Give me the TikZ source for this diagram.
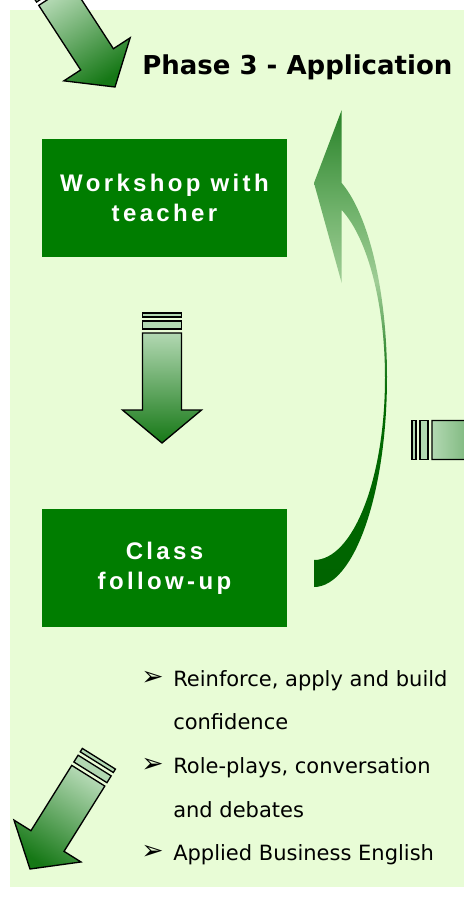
\documentclass[tikz,border=0pt]{standalone}
\usepackage{fontspec}
\setmainfont{DejaVu Sans}
\newfontfamily\boxfont[LetterSpace=14]{Liberation Sans}
\newfontfamily\dejavu{DejaVu Sans}
\definecolor{panel}{RGB}{232,252,214}
\definecolor{boxgreen}{RGB}{0,125,0}
\definecolor{alight}{RGB}{178,216,178}
\definecolor{adark}{RGB}{22,120,22}
\definecolor{cA}{RGB}{0,100,0}
\definecolor{cB}{RGB}{0,105,0}
\definecolor{cC}{RGB}{40,130,40}
\definecolor{cD}{RGB}{110,175,105}
\definecolor{cE}{RGB}{160,205,150}
\definecolor{cF}{RGB}{115,180,110}
\definecolor{cG}{RGB}{40,130,40}
\pgfdeclareverticalshading{curvedshade}{100bp}{color(0bp)=(cA); color(25bp)=(cA); color(45bp)=(cB); color(49bp)=(cC); color(53bp)=(cD); color(57bp)=(cE); color(64bp)=(cF); color(75bp)=(cG); color(100bp)=(cG)}
\tikzset{
  arrowline/.style={draw=black, line width=1pt, line join=miter},
  greenbox/.style={rectangle, fill=boxgreen, minimum width=183.75pt, minimum height=88.5pt, inner sep=0pt, align=center, text=white, font=\boxfont\bfseries\fontsize{18pt}{22.5pt}\selectfont},
  bullettext/.style={anchor=base west, inner sep=0pt, font=\dejavu\fontsize{15.75pt}{18pt}\selectfont},
  bulletmark/.style={anchor=base west, inner sep=0pt, font=\dejavu\fontsize{20pt}{22pt}\selectfont},
}
\newcommand\blockarrow[3]{%
  \begin{scope}[shift={(#1,#2)},rotate=#3]
    \shadedraw[arrowline, top color=alight, bottom color=adark, shading angle=#3]
      (0,0) -- (-39.5,-33) -- (-19.5,-33) -- (-19.5,-110) -- (19.5,-110) -- (19.5,-33) -- (39.5,-33) -- cycle;
    \filldraw[arrowline, fill=alight] (-19.5,-114) -- (19.5,-114) -- (19.5,-122) -- (-19.5,-122) -- cycle;
    \filldraw[arrowline, fill=alight] (-19.5,-126) -- (19.5,-126) -- (19.5,-130) -- (-19.5,-130) -- cycle;
  \end{scope}}
\begin{document}
\begin{tikzpicture}[x=0.75pt,y=-0.75pt]
\useasboundingbox (0,0) rectangle (464,897);
\clip (0,0) rectangle (464,897);
\fill[white] (0,0) rectangle (464,897);
\fill[panel] (10,10) rectangle (470,887);

% block arrows
\blockarrow{115}{87}{33}
\blockarrow{162}{443}{0}
\blockarrow{542}{440}{90}
\blockarrow{30}{869}{-32}

% title
\node[anchor=base west, inner sep=0pt, font=\dejavu\bfseries\fontsize{19.5pt}{24pt}\selectfont] (title) at (142,74) {Phase 3 - Application};

% boxes
\node[greenbox] (ws) at (164.5,198) {Workshop with\\teacher};
\node[greenbox] (cf) at (164.5,568) {Class\\follow-up};

% curved arrow
\shade[shading=curvedshade]
  (341.7,110) -- (341.7,183)
  .. controls (369,215.2) and (387,292) .. (387,377)
  .. controls (387,493) and (354.3,587) .. (314,587)
  -- (314,560)
  .. controls (353.2,560) and (385,478.3) .. (385,377.8)
  .. controls (385,304.8) and (367.9,238.5) .. (341.7,210)
  -- (341.7,283) -- (314,183) -- cycle;

% bullets
\node[bulletmark] (b1) at (141,685) {➢};
\node[bullettext] (t1) at (173,686) {Reinforce, apply and build};
\node[bullettext] (t1b) at (173,729) {confidence};
\node[bulletmark] (b2) at (141,772) {➢};
\node[bullettext] (t2) at (173,773) {Role-plays, conversation};
\node[bullettext] (t2b) at (173,817) {and debates};
\node[bulletmark] (b3) at (141,859) {➢};
\node[bullettext] (t3) at (173,860) {Applied Business English};
\end{tikzpicture}
\end{document}
